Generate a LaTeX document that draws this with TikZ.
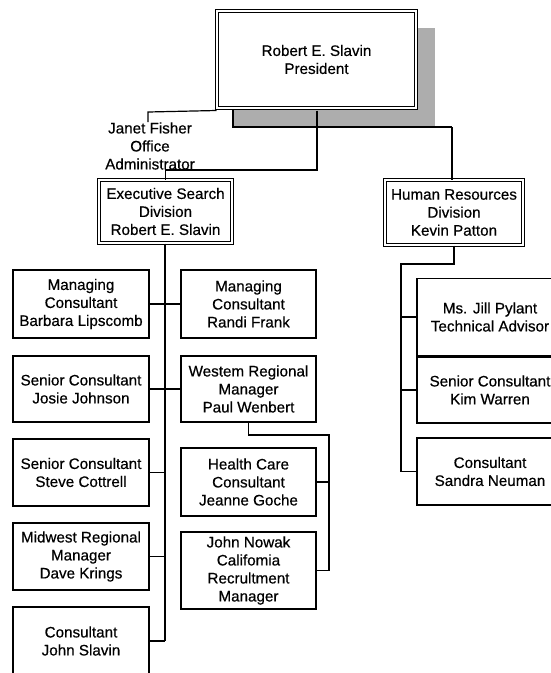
\documentclass[tikz,border=0pt]{standalone}
\usepackage{fontspec}
\setmainfont{Liberation Sans}
\newfontfamily\chartfont{Liberation Sans}[FakeBold=0.5]
\begin{document}
\begin{tikzpicture}[x=1pt,y=-1pt,
  every node/.style={font=\chartfont\fontsize{15.2}{18}\selectfont, align=center, inner sep=0pt},
  box/.style={draw, line width=1.2pt, rectangle},
  dbox/.style={draw, line width=1pt, double, double distance=2pt, rectangle, fill=white},
  conn/.style={line width=1.2pt, line join=miter},
  shadowfill/.style={fill=black!32}]
\useasboundingbox (0,0) rectangle (551,673);
\clip (0,0) rectangle (551,673);
\fill[white] (0,0) rectangle (551,673);

% shadow of president box
\fill[shadowfill] (233,28) rectangle (435,127);
\draw[conn] (233,110) -- (233,127) coordinate (shc) -- (452,127) coordinate (hrturn);

% president
\node[dbox, minimum width=199pt, minimum height=97pt] (pres) at (316.5,59.5) {Robert E. Slavin\\President};

% Janet Fisher
\node (janet) at (150,146) {Janet Fisher\\Office\\Administrator};

% divisions
\node[dbox, minimum width=133pt, minimum height=63pt] (exec) at (165.5,211.5) {Executive Search\\Division\\Robert E. Slavin};
\node[dbox, minimum width=138pt, minimum height=65pt] (hr) at (454,212.5) {Human Resources\\Division\\Kevin Patton};

% left column
\node[box, minimum width=136pt, minimum height=68pt] (barbara) at (81,304) {Managing\\Consultant\\Barbara Lipscomb};
\node[box, minimum width=136pt, minimum height=66pt] (josie) at (81,389) {Senior Consultant\\Josie Johnson};
\node[box, minimum width=136pt, minimum height=67pt] (steve) at (81,472.5) {Senior Consultant\\Steve Cottrell};
\node[box, minimum width=136pt, minimum height=67pt] (midwest) at (81,556.5) {Midwest Regional\\Manager\\Dave Krings};
\node[box, minimum width=136pt, minimum height=68pt] (slavin) at (81,641) {Consultant\\John Slavin};

% middle column
\node[box, minimum width=135pt, minimum height=68pt] (randi) at (248.5,304) {Managing\\Consultant\\Randi Frank};
\node[box, minimum width=135pt, minimum height=66pt] (wenbert) at (248.5,389) {Westem Regional\\Manager\\Paul Wenbert};
\node[box, minimum width=135pt, minimum height=68pt] (health) at (248.5,482) {Health Care\\Consultant\\Jeanne Goche};
\node[box, minimum width=135pt, minimum height=77pt] (nowak) at (248.5,570.5) {John Nowak\\Califomia\\Recrultment\\Manager};

% right column
\node[box, minimum width=146pt, minimum height=77pt] (jill) at (490,317) {Ms. Jill Pylant\\Technical Advisor};
\node[box, minimum width=146pt, minimum height=66pt] (kim) at (490,390) {Senior Consultant\\Kim Warren};
\node[box, minimum width=146pt, minimum height=67pt] (sandra) at (490,471.5) {Consultant\\Sandra Neuman};

% connectors from president
\coordinate (jt) at (148,112);
\draw[conn] (pres.south west) ++(0,2) -- (jt) -- (jt |- janet.north);
\coordinate (pm) at (317,170);
\draw[conn] (pres.south -| pm) ++(0,2) -- (pm) -- (pm -| exec.north) -- (exec.north);
\draw[conn] (hrturn) -- (hrturn |- hr.north);

% executive search spine
\coordinate (spine) at (165,641);
\draw[conn] (exec.south -| spine) -- (spine);
\draw[conn] (barbara.east) -- (randi.west);
\draw[conn] (josie.east) -- (wenbert.west);
\draw[conn] (steve.east) -- (steve.east -| spine);
\draw[conn] (midwest.east) -- (midwest.east -| spine);
\draw[conn] (slavin.east) -- (spine);

% western regional
\coordinate (wr) at (329,435);
\draw[conn] (wenbert.south) -- (wenbert.south |- wr) -- (wr) -- (wr |- nowak.east) -- (nowak.east);
\draw[conn] (health.east) -- (health.east -| wr);

% human resources
\coordinate (hrs) at (401,264);
\draw[conn] (hr.south) -- (hr.south |- hrs) -- (hrs) -- (hrs |- sandra.west) -- (sandra.west);
\draw[conn] (jill.west) -- (jill.west -| hrs);
\draw[conn] (kim.west) -- (kim.west -| hrs);
\end{tikzpicture}
\end{document}
